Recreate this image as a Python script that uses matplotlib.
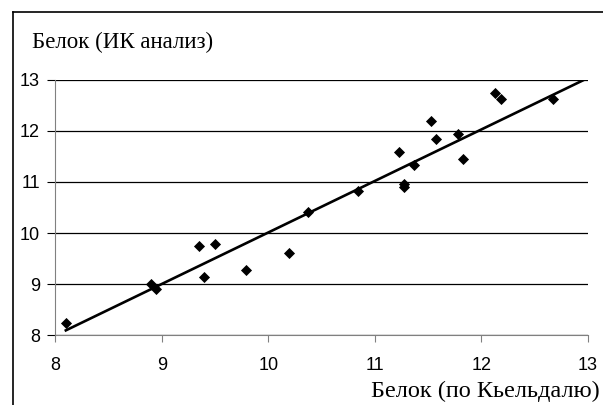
import numpy as np
import matplotlib.pyplot as plt
from matplotlib.lines import Line2D

# Белок: метод Кьельдаля (x) и ИК анализ (y)
kjeldahl = [8.10, 8.90, 8.95, 9.35, 9.40, 9.50, 9.79, 10.19, 10.37, 10.84,
            11.27, 11.27, 11.23, 11.37, 11.53, 11.57, 11.78, 11.83, 12.13, 12.18, 12.67]
ir = [8.24, 9.01, 8.90, 9.75, 9.14, 9.78, 9.27, 9.60, 10.41, 10.82,
      10.97, 10.91, 11.58, 11.33, 12.20, 11.84, 11.95, 11.45, 12.75, 12.62, 12.62]

# линия тренда (как на исходной диаграмме)
trend_slope = 1.01
trend_intercept = -0.09

ticks = [8, 9, 10, 11, 12, 13]

fig = plt.figure(figsize=(6.03, 4.05), dpi=100)
ax = fig.add_axes([0.0915, 0.1728, 0.975 - 0.0915, 0.8025 - 0.1728])

ax.scatter(kjeldahl, ir, marker='D', s=32, color='black', zorder=3, linewidths=0)

xs = np.array([min(kjeldahl), 13.0])
ax.plot(xs, trend_slope * xs + trend_intercept, color='black', lw=1.9, zorder=2)

ax.set_xlim(8, 13)
ax.set_ylim(8, 13)
ax.set_xticks(ticks)
ax.set_yticks(ticks)
ax.set_xticklabels([str(t) for t in ticks], fontfamily='Liberation Sans', fontsize=13)
ax.set_yticklabels([str(t) for t in ticks], fontfamily='Liberation Sans', fontsize=13)
ax.yaxis.grid(True, color='black', lw=0.9)
ax.set_axisbelow(True)

for s in ['top', 'right']:
    ax.spines[s].set_visible(False)
for s in ['left', 'bottom']:
    ax.spines[s].set_color('#808080')
ax.tick_params(axis='x', colors='#808080', length=5, labelcolor='black', pad=10.5)
ax.tick_params(axis='y', color='black', length=6, labelcolor='black', pad=5)

fig.text(32 / 603, 1 - 48.5 / 405, 'Белок (ИК анализ)', fontfamily='Liberation Serif',
         fontsize=16.5, ha='left', va='baseline')
fig.text(600 / 603, 1 - 397 / 405, 'Белок (по Кьельдалю)', fontfamily='Liberation Serif',
         fontsize=17.5, ha='right', va='baseline')

# рамка области диаграммы
fig.add_artist(Line2D([13 / 603, 13 / 603], [0, 1 - 11.5 / 405], color='black', lw=1.2))
fig.add_artist(Line2D([13 / 603, 1], [1 - 11.5 / 405, 1 - 11.5 / 405], color='black', lw=1.2))

fig.savefig('out.png', dpi=100)
